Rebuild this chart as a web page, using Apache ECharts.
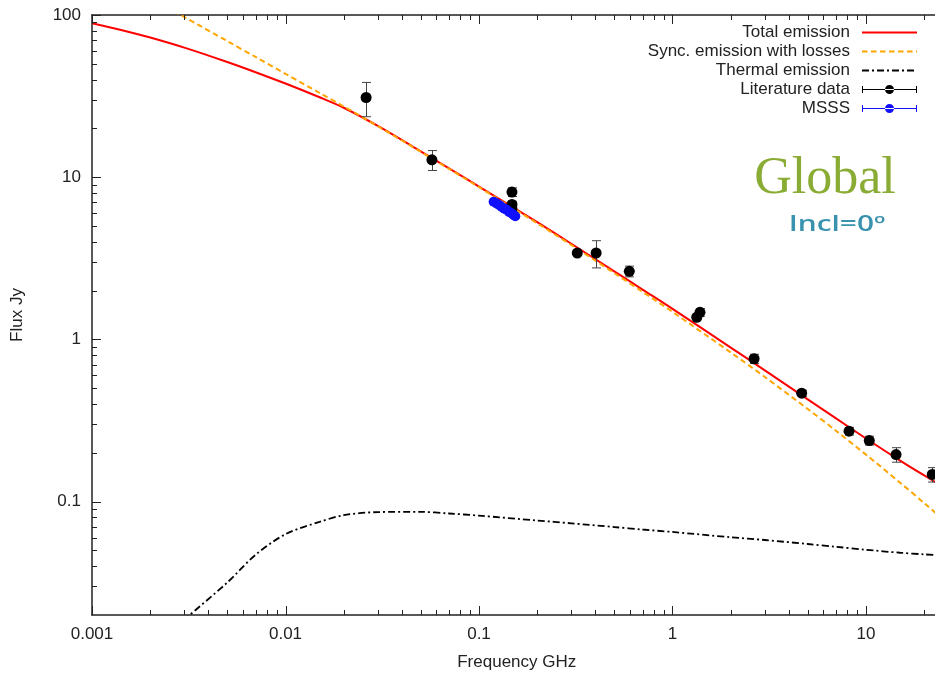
<!DOCTYPE html>
<html>
<head>
<meta charset="utf-8">
<script src="https://cdn.jsdelivr.net/npm/echarts@6/dist/echarts.min.js"></script>
<style>
  html, body { margin: 0; padding: 0; background: #ffffff; }
  #chart { width: 935px; height: 675px; }
</style>
</head>
<body>
<div id="chart"></div>
<script>
// Model curves, sampled in frequency (GHz), flux in Jy
const curveFreq   = [0.001, 0.0015, 0.002, 0.003, 0.005, 0.007, 0.01, 0.015, 0.02, 0.03, 0.05, 0.07, 0.1, 0.2, 0.3, 0.5, 0.7, 1, 2, 3, 5, 7, 10, 15, 20, 25, 30];
const totalFlux   = [89, 79.5, 72.6, 62.9, 51.3, 44.4, 37.8, 31.1, 26.8, 20.7, 14.44, 11.34, 8.76, 5.28, 3.89, 2.63, 2.03, 1.543, 0.891, 0.645, 0.427, 0.326, 0.245, 0.179, 0.145, 0.124, 0.110];
const syncFlux    = [null, null, 127.6, 97.2, 69.05, 55.12, 43.41, 33.07, 27.29, 20.62, 14.35, 11.26, 8.68, 5.20, 3.82, 2.564, 1.966, 1.478, 0.831, 0.587, 0.3724, 0.2733, 0.1948, 0.1309, 0.0979, 0.0776, 0.0639];
const thermalFlux = [null, null, 0.012, 0.0187, 0.0317, 0.047, 0.063, 0.075, 0.0825, 0.0862, 0.0865, 0.0845, 0.082, 0.0765, 0.0735, 0.0697, 0.0673, 0.065, 0.0603, 0.058, 0.0548, 0.0527, 0.0505, 0.0484, 0.0473, 0.0466, 0.046];

// Literature measurements: frequency (GHz), flux (Jy), 1-sigma error (Jy)
const litFreq = [0.0261, 0.0571, 0.148, 0.148, 0.148, 0.322, 0.403, 0.598, 1.334, 1.387, 2.64, 4.65, 8.17, 10.4, 14.3, 22.0];
const litFlux = [31.0, 12.8, 8.1, 6.8, 6.4, 3.41, 3.41, 2.63, 1.37, 1.47, 0.76, 0.466, 0.272, 0.238, 0.195, 0.147];
const litErr  = [7.4, 1.8, 0.5, 0.3, 0.3, 0.1, 0.65, 0.2, 0.05, 0.08, 0.05, 0.02, 0.015, 0.015, 0.02, 0.015];

// MSSS sub-band fluxes
const msssFreq = [0.119, 0.123, 0.127, 0.131, 0.135, 0.139, 0.143, 0.147, 0.151, 0.154];
const msssFlux = [7.05, 6.9, 6.75, 6.55, 6.4, 6.3, 6.1, 6.0, 5.85, 5.75];
const msssErr  = [0.12, 0.12, 0.12, 0.12, 0.11, 0.11, 0.11, 0.1, 0.1, 0.1];

// Axis ranges
const X_MIN = 0.001, X_MAX = 100;
const Y_MIN = 0.02,  Y_MAX = 100;

const FONT = '"Liberation Sans", Arial, Helvetica, sans-serif';
const AXIS_COLOR = '#222222';

function pairs(xs, ys) { return xs.map((x, i) => [x, ys[i]]); }
function triples(xs, ys, es) { return xs.map((x, i) => [x, ys[i], es[i]]); }

// Labels only on whole decades
function decadeLabel(v) {
  const l = Math.log10(v);
  const e = Math.round(l);
  if (Math.abs(l - e) > 1e-6) return '';
  return e < 0 ? Math.pow(10, e).toFixed(-e) : String(Math.round(Math.pow(10, e)));
}

// Gnuplot-style log ticks: long at decades, short at 2..9
function logTicks(lo, hi) {
  const out = [];
  for (let e = Math.floor(Math.log10(lo)); e <= Math.ceil(Math.log10(hi)); e++) {
    for (let m = 1; m <= 9; m++) {
      const v = m * Math.pow(10, e);
      if (v >= lo * 0.9999 && v <= hi * 1.0001) out.push([v, m === 1 ? 9 : 5]);
    }
  }
  return out;
}
const xTicks = logTicks(X_MIN, X_MAX);
const yTicks = logTicks(Y_MIN, Y_MAX).filter(t => t[0] > Y_MIN * 1.001);

function tickLine(x1, y1, x2, y2) {
  return { type: 'line', shape: { x1, y1, x2, y2 }, style: { stroke: AXIS_COLOR, lineWidth: 1 } };
}

function renderXTick(params, api) {
  const cs = params.coordSys;
  const px = Math.round(api.coord([api.value(0), 1])[0]) + 0.5;
  const len = api.value(1);
  const bottom = cs.y + cs.height, top = cs.y;
  return { type: 'group', children: [
    tickLine(px, bottom, px, bottom - len),
    tickLine(px, top, px, top + len)
  ]};
}

function renderYTick(params, api) {
  const cs = params.coordSys;
  const py = Math.round(api.coord([1, api.value(1)])[1]) + 0.5;
  const len = api.value(2);
  return tickLine(cs.x, py, cs.x + len, py);
}

function errorBarRenderer(color) {
  return function (params, api) {
    const f = api.value(0), s = api.value(1), e = api.value(2);
    const hi = api.coord([f, s + e]);
    const lo = api.coord([f, s - e]);
    const x = Math.round(hi[0]) + 0.5;
    const half = 4.5;
    const st = { stroke: color, lineWidth: 1 };
    return { type: 'group', children: [
      { type: 'line', shape: { x1: x, y1: hi[1], x2: x, y2: lo[1] }, style: st },
      { type: 'line', shape: { x1: x - half, y1: hi[1], x2: x + half, y2: hi[1] }, style: st },
      { type: 'line', shape: { x1: x - half, y1: lo[1], x2: x + half, y2: lo[1] }, style: st }
    ]};
  };
}

// Legend key: horizontal error bar with caps and a dot in the middle
const errorKeyIcon = 'path://M0 1h1v7h-1z M54 1h1v7h-1z M0 4h55v1h-55z M23 4.5a4.5 4.5 0 1 0 9 0a4.5 4.5 0 1 0 -9 0z';

const chart = echarts.init(document.getElementById('chart'), null, { renderer: 'canvas' });

const axisLabelStyle = { fontSize: 17, color: AXIS_COLOR, fontFamily: FONT };

chart.setOption({
  animation: false,
  backgroundColor: '#ffffff',
  // the frame runs past the right edge of the page, out to 100 GHz
  grid: { left: 92, top: 15, width: 967.5, height: 600, outerBoundsMode: 'none', containLabel: false },
  xAxis: [
    {
      type: 'log', logBase: 10, min: X_MIN, max: X_MAX, position: 'bottom',
      axisLine: { show: true, onZero: false, lineStyle: { color: AXIS_COLOR, width: 1.5 } },
      axisTick: { show: false }, minorTick: { show: false },
      splitLine: { show: false }, minorSplitLine: { show: false },
      axisLabel: Object.assign({ margin: 11, formatter: decadeLabel, hideOverlap: false }, axisLabelStyle),
      name: 'Frequency GHz', nameLocation: 'middle', nameGap: 39,
      // keep the title centred on the visible part of the frame
      nameTextStyle: { fontSize: 17, color: AXIS_COLOR, fontFamily: FONT, padding: [0, 118, 0, 0] }
    },
    {
      type: 'log', logBase: 10, min: X_MIN, max: X_MAX, position: 'top',
      axisLine: { show: true, onZero: false, lineStyle: { color: AXIS_COLOR, width: 1.5 } },
      axisTick: { show: false }, axisLabel: { show: false },
      splitLine: { show: false }
    }
  ],
  yAxis: [
    {
      type: 'log', logBase: 10, min: Y_MIN, max: Y_MAX, position: 'left',
      axisLine: { show: true, onZero: false, lineStyle: { color: AXIS_COLOR, width: 1.5 } },
      axisTick: { show: false }, minorTick: { show: false },
      splitLine: { show: false }, minorSplitLine: { show: false },
      axisLabel: Object.assign({ margin: 11, formatter: decadeLabel, hideOverlap: false }, axisLabelStyle),
      name: 'Flux Jy', nameLocation: 'middle', nameGap: 66, nameRotate: 90,
      nameTextStyle: { fontSize: 17, color: AXIS_COLOR, fontFamily: FONT }
    }
  ],
  legend: {
    orient: 'vertical', align: 'right',
    right: 17, top: 24, padding: 0, itemGap: 2,
    itemWidth: 55, itemHeight: 9,
    selectedMode: false,
    textStyle: { fontSize: 17, color: AXIS_COLOR, fontFamily: FONT, padding: [0, 7, 0, 0] },
    data: [
      { name: 'Total emission', itemStyle: { opacity: 0 } },
      { name: 'Sync. emission with losses', itemStyle: { opacity: 0 } },
      { name: 'Thermal emission', itemStyle: { opacity: 0 } },
      { name: 'Literature data', icon: errorKeyIcon },
      { name: 'MSSS', icon: errorKeyIcon }
    ]
  },
  graphic: [
    {
      type: 'text', x: 825, y: 179, z: 10,
      style: { text: 'Global', font: '52px "Liberation Serif", "Times New Roman", serif', fill: '#8aac35', align: 'center', verticalAlign: 'middle' }
    },
    {
      type: 'text', x: 837, y: 225, z: 10, scaleX: 1.42,
      style: { text: 'Incl=0º', font: '600 21px "Open Sans", Lato, sans-serif', fill: '#3a93ae', align: 'center', verticalAlign: 'middle' }
    }
  ],
  series: [
    {
      name: 'Total emission', type: 'line', data: pairs(curveFreq, totalFlux),
      symbol: 'none', smooth: 0.3, connectNulls: false, z: 2,
      lineStyle: { color: '#ff0000', width: 2 }, itemStyle: { color: '#ff0000' }
    },
    {
      name: 'Sync. emission with losses', type: 'line', data: pairs(curveFreq, syncFlux),
      symbol: 'none', smooth: 0.3, z: 2,
      lineStyle: { color: '#ffa500', width: 2, type: [5.5, 3.5] }, itemStyle: { color: '#ffa500' }
    },
    {
      name: 'Thermal emission', type: 'line', data: pairs(curveFreq, thermalFlux),
      symbol: 'none', smooth: 0.3, z: 2,
      lineStyle: { color: '#000000', width: 1.8, type: [7, 3, 2, 3] }, itemStyle: { color: '#000000' }
    },
    {
      name: 'lit-errors', type: 'custom', data: triples(litFreq, litFlux, litErr),
      encode: { x: 0, y: 1 }, renderItem: errorBarRenderer('#444444'), z: 3, silent: true
    },
    {
      name: 'Literature data', type: 'scatter', data: pairs(litFreq, litFlux),
      symbol: 'circle', symbolSize: 11, z: 4, itemStyle: { color: '#000000', opacity: 1 }
    },
    {
      name: 'msss-errors', type: 'custom', data: triples(msssFreq, msssFlux, msssErr),
      encode: { x: 0, y: 1 }, renderItem: errorBarRenderer('#1a1aff'), z: 3, silent: true
    },
    {
      name: 'MSSS', type: 'scatter', data: pairs(msssFreq, msssFlux),
      symbol: 'circle', symbolSize: 10, z: 4, itemStyle: { color: '#1010ff', opacity: 1 }
    },
    {
      name: 'x-ticks', type: 'custom', data: xTicks,
      encode: { x: 0 }, renderItem: renderXTick, z: 6, silent: true, clip: false
    },
    {
      name: 'y-ticks', type: 'custom', data: yTicks.map(t => [1, t[0], t[1]]),
      encode: { x: 0, y: 1 }, renderItem: renderYTick, z: 6, silent: true, clip: false
    }
  ]
});
</script>
</body>
</html>
